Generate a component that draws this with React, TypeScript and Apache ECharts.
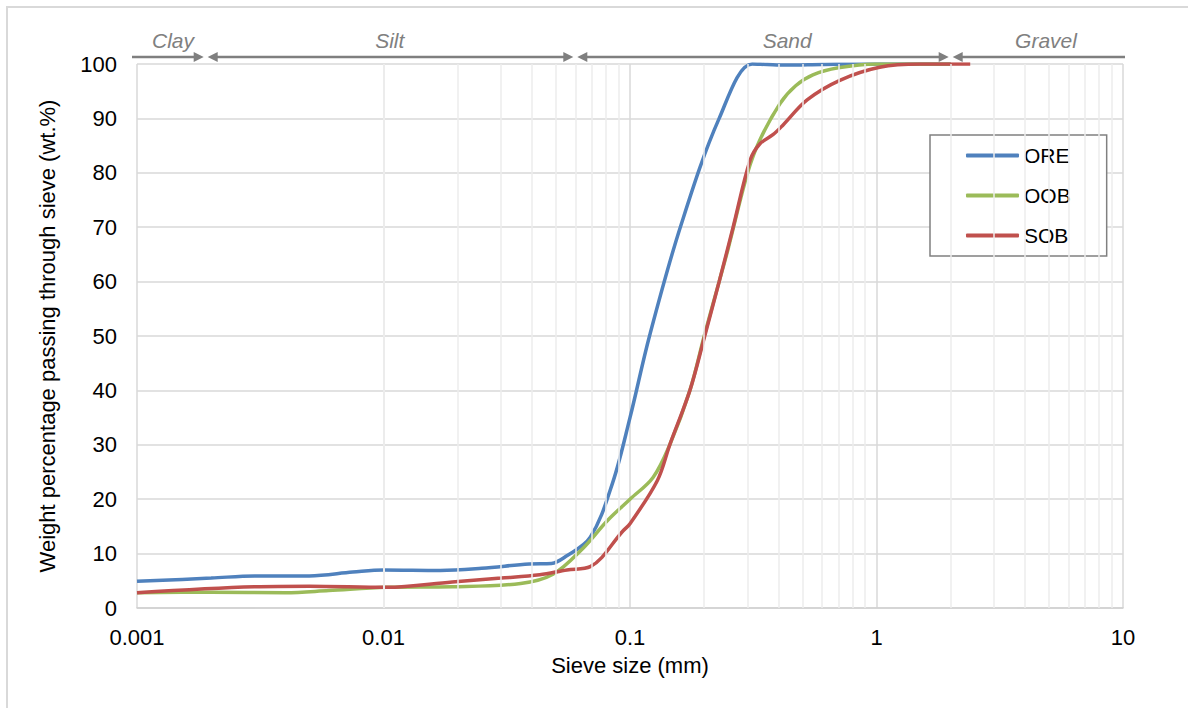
import React, { useEffect, useRef } from "react";
import * as echarts from "echarts";

const FONT = "'Liberation Sans', Arial, Helvetica, sans-serif";

const seriesNames = ["ORE", "OOB", "SOB"];
const seriesColors = ["#4f81bd", "#9bbb59", "#c0504d"];

// sieve size (mm), percent passing
const oreSize = [0.001, 0.002, 0.003, 0.005, 0.0075, 0.01, 0.017, 0.025, 0.039, 0.048, 0.055, 0.069, 0.085, 0.1, 0.12, 0.16, 0.23, 0.313, 0.36, 0.43, 0.6, 1, 2];
const orePass = [4.9, 5.5, 5.9, 5.9, 6.6, 7.0, 6.9, 7.3, 8.1, 8.2, 9.5, 13, 23, 35, 50, 70, 90, 100, 99.9, 99.8, 99.9, 100, 100];

const oobSize = [0.001, 0.002, 0.004, 0.006, 0.0103, 0.019, 0.036, 0.0487, 0.0645, 0.0807, 0.1, 0.124, 0.145, 0.175, 0.2, 0.23, 0.25, 0.3, 0.336, 0.407, 0.47, 0.552, 0.7, 1, 2];
const oobPass = [2.8, 2.9, 2.8, 3.2, 3.8, 3.9, 4.5, 6.2, 11, 16, 20, 24, 30, 40, 50, 60, 66, 80, 86, 92.8, 96, 98, 99.3, 100, 100];

const sobSize = [0.001, 0.003, 0.005, 0.0103, 0.019, 0.03, 0.043, 0.0555, 0.069, 0.0938, 0.1, 0.129, 0.145, 0.175, 0.201, 0.23, 0.262, 0.307, 0.336, 0.38, 0.418, 0.523, 0.71, 1.03, 1.5, 2.4];
const sobPass = [2.8, 3.9, 4.0, 3.8, 4.8, 5.5, 6.1, 7.0, 7.6, 14.2, 15.5, 23.4, 30, 40, 50, 60, 70, 82.3, 85.3, 87, 88.8, 93.4, 97, 99.4, 100, 100];

const minorGrid = [2, 3, 4, 5, 6, 7, 8, 9].flatMap((m) => [0.001, 0.01, 0.1, 1].map((d) => m * d));

// grain-size classes (mm)
const classNames = ["Clay", "Silt", "Sand", "Gravel"];
const classBounds = [0.0019, 0.06, 2];
const classLabelAt = [0.0014, 0.0106, 0.434, 4.87];

const sizes = [oreSize, oobSize, sobSize];
const passes = [orePass, oobPass, sobPass];

export default function App() {
  const ref = useRef<HTMLDivElement>(null);
  useEffect(() => {
    if (!ref.current) return;
    const chart = echarts.init(ref.current, null, { renderer: "svg" });
    const option: any = {
      animation: false,
      backgroundColor: "#ffffff",
      grid: { left: 137, right: 65, top: 64, bottom: 100 },
      legend: {
        orient: "vertical",
        left: 930,
        top: 135,
        padding: [10, 36, 10, 36],
        itemGap: 19,
        itemWidth: 53,
        itemHeight: 4,
        icon: "roundRect",
        borderColor: "#808080",
        borderWidth: 1.5,
        borderRadius: 0,
        backgroundColor: "#ffffff",
        textStyle: { fontSize: 21, color: "#000", fontFamily: FONT },
        data: seriesNames,
      },
      xAxis: {
        type: "log",
        logBase: 10,
        min: 0.001,
        max: 10,
        name: "Sieve size (mm)",
        nameLocation: "middle",
        nameGap: 46,
        nameTextStyle: { fontSize: 22, color: "#000", fontFamily: FONT },
        axisLine: { show: true, lineStyle: { color: "#d0d0d0", width: 1.5 } },
        axisTick: { show: false },
        axisLabel: {
          fontSize: 22,
          color: "#000",
          fontFamily: FONT,
          margin: 18,
          formatter: (v: number) => String(Number(v.toPrecision(6))),
        },
        splitLine: { show: true, lineStyle: { color: "#d9d9d9", width: 1.5 } },
      },
      yAxis: {
        type: "value",
        min: 0,
        max: 100,
        interval: 10,
        name: "Weight percentage passing through sieve (wt.%)",
        nameLocation: "middle",
        nameGap: 79,
        nameTextStyle: { fontSize: 22, color: "#000", fontFamily: FONT },
        axisLine: { show: false },
        axisTick: { show: false },
        axisLabel: { fontSize: 22, color: "#000", fontFamily: FONT, margin: 20 },
        splitLine: { show: true, lineStyle: { color: "#d9d9d9", width: 1.5 } },
      },
      series: [
        {
          type: "line",
          name: "_minor",
          data: [],
          z: 1,
          silent: true,
          markLine: {
            silent: true,
            symbol: ["none", "none"],
            label: { show: false },
            animation: false,
            lineStyle: { color: "#ececec", type: "solid", width: 1.5 },
            data: minorGrid.map((v) => ({ xAxis: v })),
          },
        },
        ...seriesNames.map((name, i) => ({
          type: "line",
          name,
          z: 3,
          smooth: 0.35,
          showSymbol: false,
          symbol: "none",
          color: seriesColors[i],
          lineStyle: { width: 3.5, color: seriesColors[i] },
          data: sizes[i].map((s, j) => [s, passes[i][j]]),
        })),
      ],
    };
    chart.setOption(option);

    const px = (v: number) => chart.convertToPixel({ xAxisIndex: 0 }, v) as number;
    const yTop = chart.convertToPixel({ yAxisIndex: 0 }, 100) as number;
    const xLeft = px(0.001);
    const xRight = px(10);
    const ay = yTop - 7;
    const gray = "#7f7f7f";
    const aLen = 10;
    const aHalf = 5;
    const bounds = classBounds.map(px);
    const gap = 2;
    const g: any[] = [];
    g.push({
      type: "rect",
      shape: { x: 7, y: 7, width: 1220, height: 740 },
      style: { fill: "none", stroke: "#d9d9d9", lineWidth: 2 },
      silent: true,
    });
    const segs: [number, number][] = [];
    const edges = [xLeft - 5, ...bounds, xRight + 2];
    for (let k = 0; k < 4; k++) segs.push([edges[k], edges[k + 1]]);
    segs.forEach(([a, b], k) => {
      const leftArrow = k > 0;
      const rightArrow = k < 3;
      const x1 = leftArrow ? a + gap : a;
      const x2 = rightArrow ? b - gap : b;
      g.push({
        type: "line",
        shape: { x1: leftArrow ? x1 + aLen - 1 : x1, y1: ay, x2: rightArrow ? x2 - aLen + 1 : x2, y2: ay },
        style: { stroke: gray, lineWidth: 2.5 },
        silent: true,
      });
      if (leftArrow)
        g.push({
          type: "polygon",
          shape: { points: [[x1, ay], [x1 + aLen, ay - aHalf], [x1 + aLen, ay + aHalf]] },
          style: { fill: gray },
          silent: true,
        });
      if (rightArrow)
        g.push({
          type: "polygon",
          shape: { points: [[x2, ay], [x2 - aLen, ay - aHalf], [x2 - aLen, ay + aHalf]] },
          style: { fill: gray },
          silent: true,
        });
    });
    classNames.forEach((n, k) => {
      g.push({
        type: "text",
        x: px(classLabelAt[k]),
        y: ay - 17,
        style: {
          text: n,
          fontSize: 21,
          fontStyle: "italic",
          fontFamily: FONT,
          fill: "#808080",
          align: "center",
          verticalAlign: "middle",
        },
        silent: true,
      });
    });
    chart.setOption({ graphic: g });

    return () => chart.dispose();
  }, []);
  return (
    <div
      ref={ref}
      style={{ position: "absolute", left: 0, top: 0, width: 1188, height: 708 }}
    />
  );
}
